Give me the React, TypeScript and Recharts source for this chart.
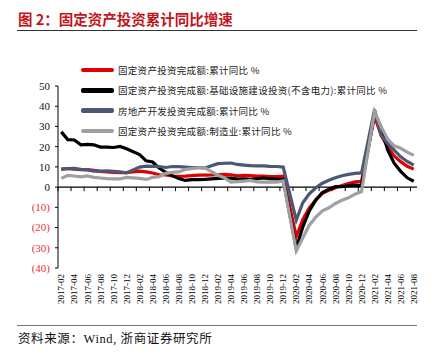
import React from 'react';
import { LineChart, Line, XAxis, YAxis, ReferenceLine } from 'recharts';

const months: string[] = [
  '2017-02','2017-03','2017-04','2017-05','2017-06','2017-07','2017-08','2017-09','2017-10','2017-11','2017-12',
  '2018-01','2018-02','2018-03','2018-04','2018-05','2018-06','2018-07','2018-08','2018-09','2018-10','2018-11','2018-12',
  '2019-01','2019-02','2019-03','2019-04','2019-05','2019-06','2019-07','2019-08','2019-09','2019-10','2019-11','2019-12',
  '2020-01','2020-02','2020-03','2020-04','2020-05','2020-06','2020-07','2020-08','2020-09','2020-10','2020-11','2020-12',
  '2021-01','2021-02','2021-03','2021-04','2021-05','2021-06','2021-07','2021-08',
];

// 固定资产投资完成额:累计同比
const faiTotal: (number | null)[] = [
  8.9, 9.2, 8.9, 8.6, 8.6, 8.3, 7.8, 7.5, 7.3, 7.2, 7.2,
  null, 7.9, 7.5, 7.0, 6.1, 6.0, 5.5, 5.3, 5.4, 5.7, 5.9, 5.9,
  null, 6.1, 6.3, 6.1, 5.6, 5.8, 5.7, 5.5, 5.4, 5.2, 5.2, 5.4,
  null, -24.5, -16.1, -10.3, -6.3, -3.1, -1.6, -0.3, 0.8, 1.8, 2.6, 2.9,
  null, 35.0, 25.6, 19.9, 15.4, 12.6, 10.3, 8.9,
];

// 基础设施建设投资(不含电力):累计同比
const faiInfra: (number | null)[] = [
  27.3, 23.5, 23.3, 20.9, 21.1, 20.9, 19.8, 19.8, 19.6, 20.1, 19.0,
  null, 16.1, 13.0, 12.4, 9.4, 7.3, 5.7, 4.2, 3.3, 3.7, 3.7, 3.8,
  null, 4.3, 4.4, 4.4, 4.0, 4.1, 3.8, 4.2, 4.5, 4.2, 4.0, 3.8,
  null, -30.3, -19.7, -11.8, -6.3, -2.7, -1.0, 0.2, 0.2, 0.7, 1.0, 0.9,
  null, 36.6, 29.7, 18.4, 11.8, 7.8, 4.6, 2.9,
];

// 房地产开发投资完成额:累计同比
const faiRealEstate: (number | null)[] = [
  8.9, 9.1, 9.3, 8.8, 8.5, 7.9, 7.9, 8.1, 7.8, 7.5, 7.0,
  null, 9.9, 10.4, 10.3, 10.2, 9.7, 10.2, 10.1, 9.9, 9.7, 9.7, 9.5,
  null, 11.6, 11.8, 11.9, 11.2, 10.9, 10.6, 10.5, 10.5, 10.3, 10.2, 9.9,
  null, -16.3, -7.7, -3.3, -0.3, 1.9, 3.4, 4.6, 5.6, 6.3, 6.8, 7.0,
  null, 38.3, 25.6, 21.6, 18.3, 15.0, 12.7, 10.9,
];

// 制造业:累计同比
const faiManufacturing: (number | null)[] = [
  4.3, 5.8, 5.5, 5.1, 5.5, 4.8, 4.5, 4.2, 4.1, 4.1, 4.8,
  null, 4.3, 3.8, 4.8, 5.2, 6.8, 7.3, 7.5, 8.7, 9.1, 9.5, 9.5,
  null, 5.9, 4.6, 2.5, 2.7, 3.0, 3.3, 2.6, 2.5, 2.6, 2.5, 3.1,
  null, -31.5, -25.2, -18.8, -14.8, -11.7, -10.2, -8.1, -6.5, -5.3, -3.5, -2.2,
  null, 37.3, 29.8, 23.8, 20.4, 19.2, 17.3, 15.7,
];

const yTicks: number[] = [-40, -30, -20, -10, 0, 10, 20, 30, 40, 50];

const seriesNames: string[] = [
  '固定资产投资完成额:累计同比 %',
  '固定资产投资完成额:基础设施建设投资(不含电力):累计同比 %',
  '房地产开发投资完成额:累计同比 %',
  '固定资产投资完成额:制造业:累计同比 %',
];
const seriesKeys = ['total', 'infra', 'realEstate', 'mfg'];
const seriesColors = ['#e00000', '#000000', '#4a5876', '#a0a0a0'];

const data = months.map((m, i) => ({
  month: m,
  total: faiTotal[i],
  infra: faiInfra[i],
  realEstate: faiRealEstate[i],
  mfg: faiManufacturing[i],
}));

const W = 440;
const H = 361;
const PLOT_LEFT = 58;
const PLOT_TOP = 86;
const PLOT_RIGHT = 417;
const PLOT_BOTTOM = 268;
const PW = PLOT_RIGHT - PLOT_LEFT;
const PH = PLOT_BOTTOM - PLOT_TOP;
const BW = PW / months.length;
const ZERO_Y = PLOT_TOP + (PH * 50) / 90;

const serif = '"Liberation Serif", "Times New Roman", serif';
const cjk = '"Noto Sans CJK SC", sans-serif';

const XTick = (props: any) => {
  const { x, payload } = props;
  const tx = x - BW / 2;
  return (
    <g>
      <line x1={tx} y1={ZERO_Y} x2={tx} y2={ZERO_Y + 4} stroke="#000" strokeWidth={1} />
      <text
        transform={`translate(${x},${PLOT_BOTTOM + 6}) rotate(-90)`}
        textAnchor="end"
        dy="0.35em"
        fontFamily={serif}
        fontSize={9}
        fill="#000"
      >
        {payload.value}
      </text>
    </g>
  );
};

const YTick = (props: any) => {
  const { x, y, payload } = props;
  const v = payload.value as number;
  const label = v < 0 ? `(${Math.abs(v)})` : `${v}`;
  return (
    <text x={x} y={y} dy="0.35em" textAnchor="end" fontFamily={serif} fontSize={11} fill={v < 0 ? '#f03030' : '#111'}>
      {label}
    </text>
  );
};

export default function App() {
  return (
    <div style={{ position: 'absolute', left: 0, top: 0, width: W, height: H, background: '#fff', overflow: 'hidden' }}>
      <div
        style={{
          position: 'absolute', left: 18, top: 10, fontFamily: cjk, fontWeight: 700, fontSize: 14.5,
          color: '#c0161e', lineHeight: '18px', whiteSpace: 'nowrap',
        }}
      >
        图 2：固定资产投资累计同比增速
      </div>
      <div style={{ position: 'absolute', left: 17, top: 30, width: 400, height: 1, background: '#333' }} />

      <LineChart
        width={W}
        height={H}
        data={data}
        margin={{ top: PLOT_TOP, right: W - PLOT_RIGHT, left: 18, bottom: 43 }}
      >
        <XAxis
          dataKey="month"
          scale="band"
          interval={1}
          height={50}
          axisLine={false}
          tickLine={false}
          tick={<XTick />}
        />
        <YAxis
          domain={[-40, 50]}
          ticks={yTicks}
          interval={0}
          width={40}
          axisLine={{ stroke: '#000', strokeWidth: 1 }}
          tickLine={{ stroke: '#000' }}
          tickSize={3}
          tickMargin={5}
          tick={<YTick />}
          allowDataOverflow
        />
        <ReferenceLine y={0} stroke="#000" strokeWidth={1.2} />
        {seriesKeys.map((k, i) => (
          <Line
            key={k}
            type="linear"
            dataKey={k}
            stroke={seriesColors[i]}
            strokeWidth={3.2}
            dot={false}
            connectNulls
            isAnimationActive={false}
          />
        ))}
      </LineChart>

      {seriesNames.map((n, i) => (
        <div key={n} style={{ position: 'absolute', left: 81, top: 64 + i * 20.3, height: 12, display: 'flex', alignItems: 'center', whiteSpace: 'nowrap' }}>
          <div style={{ width: 33, height: 4.5, background: seriesColors[i], borderRadius: 2 }} />
          <div style={{ marginLeft: 4, fontFamily: cjk, fontSize: 9.5, color: '#222', letterSpacing: 0.3 }}>{n}</div>
        </div>
      ))}

      <div style={{ position: 'absolute', left: 17, top: 325, width: 400, height: 1, background: '#777' }} />
      <div
        style={{
          position: 'absolute', left: 18, top: 331, fontFamily: '"Liberation Serif", "Noto Sans CJK SC", serif', fontSize: 12.5,
          color: '#111', whiteSpace: 'nowrap', letterSpacing: 0.6, lineHeight: '16px',
        }}
      >
        资料来源：Wind, 浙商证券研究所
      </div>
    </div>
  );
}
